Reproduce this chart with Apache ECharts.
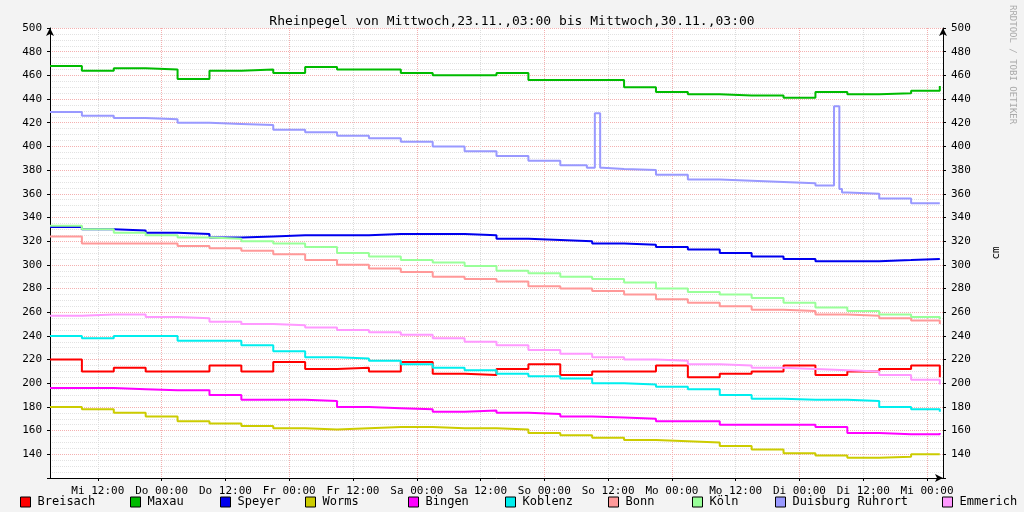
<!DOCTYPE html><html><head><meta charset="utf-8"><script src="https://cdn.jsdelivr.net/npm/echarts@6/dist/echarts.min.js"></script>
<style>html,body{margin:0;background:#f3f3f3}#c{width:1024px;height:512px}</style></head><body><div id="c"></div><script>
const hours=[0,6,12,18,24,30,36,42,48,54,60,66,72,78,84,90,96,102,108,114,120,126,132,138,144,150,156,162,167.4];
const tickHours=[9,21,33,45,57,69,81,93,105,117,129,141,153,165];
const tickLabels=['Mi 12:00','Do 00:00','Do 12:00','Fr 00:00','Fr 12:00','Sa 00:00','Sa 12:00','So 00:00','So 12:00','Mo 00:00','Mo 12:00','Di 00:00','Di 12:00','Mi 00:00'];
const names=['Breisach','Maxau','Speyer','Worms','Bingen','Koblenz','Bonn','Köln','Duisburg Ruhrort','Emmerich'];
const colors=['#FF0000','#00BB00','#0000EE','#CCCC00','#FF00FF','#00EEEE','#FF9999','#99FF99','#9999FF','#FF99FF'];
const breisach=[220,210,213,210,210,215,210,218,212,213,210,218,208,207,212,216,207,210,210,215,205,208,210,215,207,210,212,215,205];
const maxau=[468,464,466,465,457,464,465,462,467,465,465,462,460,460,462,456,456,456,450,446,444,443,443,441,446,444,445,447,451];
const speyer=[332,330,329,327,326,323,324,325,325,325,326,326,326,325,322,321,320,318,317,315,313,310,307,305,303,303,304,305,305];
const worms=[180,178,175,172,168,166,164,162,161,162,163,163,162,162,161,158,156,154,152,151,150,147,144,141,139,137,138,140,140];
const bingen=[196,196,195,194,194,190,186,186,185,180,179,178,176,177,175,174,172,171,170,168,168,165,165,165,163,158,157,157,158];
const koblenz=[240,238,240,240,236,236,232,227,222,221,219,216,213,211,208,206,204,200,199,197,195,190,187,186,186,185,180,178,176];
const bonn=[324,318,318,318,316,314,312,309,304,300,297,294,290,288,286,282,280,278,275,271,268,265,262,261,258,257,255,253,250];
const koeln=[333,330,327,325,323,322,320,318,315,310,307,304,302,299,295,293,290,288,285,280,277,275,272,268,264,261,258,256,254];
const emmerich=[257,258,258,256,255,252,250,249,247,245,243,241,238,235,232,228,225,222,220,219,216,215,213,212,211,210,207,203,199];
const duisburgHours=[0,6,12,18,24,30,36,42,48,54,60,66,72,78,84,90,96,101,102.5,103.5,104,108,114,120,126,132,138,144,147.5,148.5,149,150,156,162,167.4];
const duisburg=[429,426,424,423,420,419,418,414,412,409,407,404,400,396,392,388,384,382,428,382,381,380,376,372,371,370,369,367,434,364,361,360,356,352,352];
const all=[breisach,maxau,speyer,worms,bingen,koblenz,bonn,koeln,null,emmerich];
const legendX=[15,125,215,300,403,500,603,687,770,937];
const series=names.map((n,i)=>({name:n,type:'line',step:'end',showSymbol:false,color:colors[i],lineStyle:{width:2},
 data:i===8?duisburgHours.map((h,k)=>[h,duisburg[k]]):hours.map((h,k)=>[h,all[i][k]])}));
const font='DejaVu Sans Mono';
const c=echarts.init(document.getElementById('c'));
c.setOption({backgroundColor:'#f3f3f3',animation:false,
 title:{text:'Rheinpegel von Mittwoch,23.11.,03:00 bis Mittwoch,30.11.,03:00',left:'center',top:10,textStyle:{fontFamily:font,fontSize:13,fontWeight:'normal',color:'#000'}},
 legend:names.map((n,i)=>({data:[n],left:legendX[i],top:491,itemWidth:10,itemHeight:10,icon:'rect',itemStyle:{borderColor:'#000',borderWidth:1},textStyle:{fontFamily:font,fontSize:12,color:'#000',padding:[0,0,0,2]}})),
 graphic:[{type:'rect',shape:{x:50,y:28,width:893,height:450},style:{fill:'#fff'},z:-10},
  {type:'text',left:1008,top:5,rotation:-Math.PI/2,style:{text:'RRDTOOL / TOBI OETIKER',fill:'#aaa',font:'9px DejaVu Sans Mono'}}],
 grid:{left:50,right:81,top:28,bottom:34},
 xAxis:{type:'value',min:0,max:168,interval:3,
  axisLine:{lineStyle:{color:'#000'},symbol:['none','arrow'],symbolSize:[6,8]},
  axisTick:{customValues:tickHours,length:3,lineStyle:{color:'#000'}},
  axisLabel:{customValues:tickHours,formatter:v=>tickLabels[tickHours.indexOf(v)],fontFamily:font,fontSize:11,color:'#000'},
  splitLine:{show:true,lineStyle:{color:['#dcdcdc','#f4b0b0'],type:'dotted'}},
  minorSplitLine:{show:false}},
 yAxis:[{type:'value',min:120,max:500,interval:20,
  axisLine:{show:true,lineStyle:{color:'#000'},symbol:['none','arrow'],symbolSize:[6,8]},axisTick:{length:3},
  axisLabel:{formatter:v=>v===120?'':v,fontFamily:font,fontSize:11,color:'#000'},
  splitLine:{lineStyle:{color:'#f4b0b0',type:'dotted'}},minorTick:{show:false,splitNumber:4},minorSplitLine:{show:true,lineStyle:{color:'#e2e2e2',type:'dotted'}}},
  {type:'value',min:120,max:500,interval:20,position:'right',name:'cm',nameLocation:'middle',nameRotate:90,nameGap:48,nameTextStyle:{fontFamily:font,fontSize:11,color:'#000'},
  axisLine:{show:true,lineStyle:{color:'#000'},symbol:['none','arrow'],symbolSize:[6,8]},axisTick:{length:3},
  axisLabel:{formatter:v=>v===120?'':v,fontFamily:font,fontSize:11,color:'#000'},splitLine:{show:false}}],
 series
});
</script></body></html>
